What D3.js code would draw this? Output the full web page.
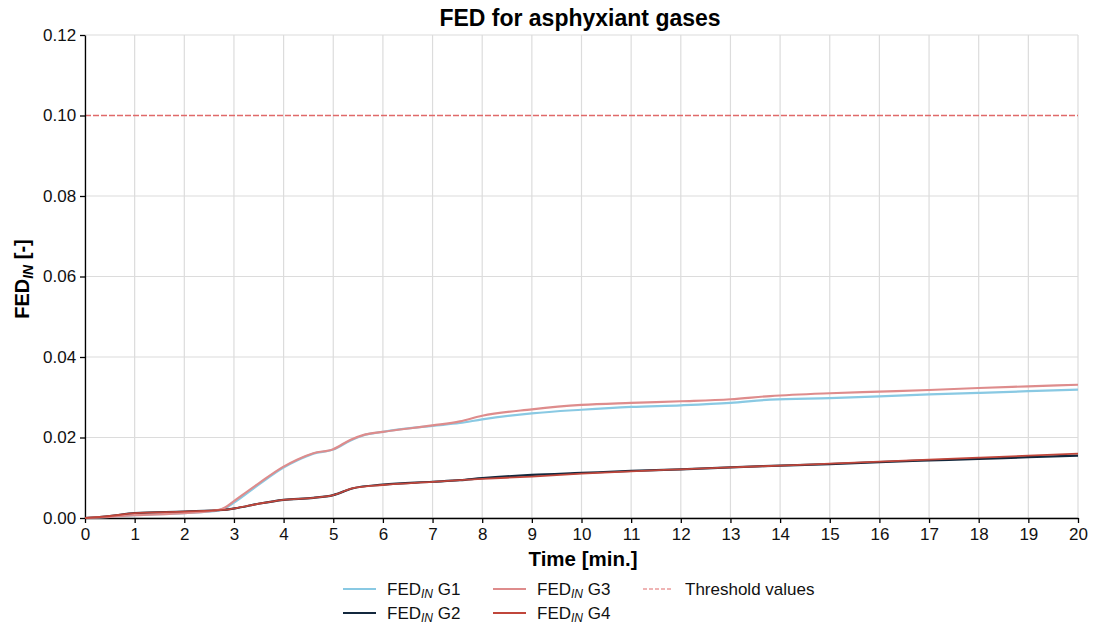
<!DOCTYPE html>
<html><head><meta charset="utf-8">
<script src="https://cdn.jsdelivr.net/npm/d3@7"></script>
<style>body{margin:0;background:#fff;font-family:"Liberation Sans",Arial,sans-serif;}</style>
</head><body><svg id="c" width="1098" height="628"></svg>
<script>
const timeG13 = [0,0.5,1,2,2.7,2.82,3.0,3.52,3.99,4.27,4.6,5.0,5.34,5.6,6,7,7.55,8,9,10,11,12,13,13.8,15,16,17,18,19,20];
const g1 = [0,0.0003,0.0007,0.0012,0.0019,0.0024,0.0038,0.0085,0.0125,0.0143,0.016,0.017,0.0192,0.0205,0.0214,0.0229,0.0236,0.0245,0.026,0.0269,0.0276,0.0280,0.0286,0.0294,0.0298,0.0302,0.0307,0.0311,0.0315,0.0319];
const g3 = [0,0.0003,0.0007,0.0012,0.0020,0.0026,0.0042,0.0088,0.0127,0.0145,0.0161,0.0171,0.0194,0.0206,0.0214,0.0230,0.0240,0.0254,0.0270,0.0281,0.0286,0.0290,0.0295,0.0303,0.0310,0.0314,0.0318,0.0323,0.0327,0.0331];
const timeG24 = [0,0.5,1,2,2.78,3.02,3.52,4,4.6,5,5.4,6,7,7.55,8,9,10,11,12,13,14,15,16,17,18,19,20];
const g2 = [0,0.0005,0.0012,0.0016,0.0020,0.0024,0.0036,0.0045,0.0050,0.0057,0.0074,0.0083,0.0090,0.0094,0.0099,0.0107,0.0112,0.0117,0.0121,0.0126,0.0130,0.0134,0.0139,0.0143,0.0147,0.0151,0.0155];
const g4 = [0,0.0005,0.0012,0.0016,0.0020,0.0024,0.0036,0.0045,0.0050,0.0057,0.0074,0.0082,0.0090,0.0094,0.0097,0.0103,0.0110,0.0116,0.0121,0.0126,0.0130,0.0135,0.0140,0.0145,0.0150,0.0155,0.0160];
const threshold = 0.10;
const xTicks = d3.range(0,21,1);
const yTicks = [0,0.02,0.04,0.06,0.08,0.10,0.12];

const svg = d3.select("#c");
const m = {l:85, r:1078, t:35, b:518};
const x = d3.scaleLinear().domain([0,20]).range([m.l,m.r]);
const y = d3.scaleLinear().domain([0,0.12]).range([m.b,m.t]);

// grid
svg.append("g").selectAll("line").data(xTicks).join("line")
  .attr("x1",d=>x(d)).attr("x2",d=>x(d)).attr("y1",m.t).attr("y2",m.b)
  .attr("stroke","#dcdcdc").attr("stroke-width",1.2);
svg.append("g").selectAll("line").data(yTicks.filter(v=>v!==threshold)).join("line")
  .attr("x1",m.l).attr("x2",m.r).attr("y1",d=>y(d)).attr("y2",d=>y(d))
  .attr("stroke","#dcdcdc").attr("stroke-width",1.2);

// threshold
const thrColor = "#e06a6a";
svg.append("line").attr("x1",m.l).attr("x2",m.r).attr("y1",y(threshold)).attr("y2",y(threshold))
  .attr("stroke",thrColor).attr("stroke-width",1.3).attr("stroke-dasharray","6,2");

// axes
const xa = svg.append("g").attr("transform",`translate(0,${m.b})`)
  .call(d3.axisBottom(x).tickValues(xTicks).tickFormat(d3.format("d")).tickSize(5).tickSizeOuter(0));
const ya = svg.append("g").attr("transform",`translate(${m.l},0)`)
  .call(d3.axisLeft(y).tickValues(yTicks).tickFormat(d3.format(".2f")).tickSize(5).tickSizeOuter(0));
[xa,ya].forEach(a=>{
  a.selectAll("path,line").attr("stroke","#000").attr("stroke-width",1.3);
  a.selectAll("text").attr("font-size",17).attr("fill","#111").attr("font-family","Liberation Sans, Arial, sans-serif");
});
xa.selectAll("text").attr("dy","0.85em");
ya.selectAll("text").attr("dx","-0.05em");

// lines
const line = (t)=>d3.line().x((d,i)=>x(t[i])).y(d=>y(d)).curve(d3.curveMonotoneX);
const series = [
  {v:g1,t:timeG13,c:"#89c9e3",w:2.2},
  {v:g2,t:timeG24,c:"#13283d",w:2.2},
  {v:g3,t:timeG13,c:"#de8c8c",w:2.2},
  {v:g4,t:timeG24,c:"#c0463b",w:1.8}
];
series.forEach(s=>{
  svg.append("path").datum(s.v).attr("d",line(s.t)).attr("fill","none")
    .attr("stroke",s.c).attr("stroke-width",s.w);
});

// title & labels
svg.append("text").attr("x",580).attr("y",26).attr("text-anchor","middle")
  .attr("font-size",23).attr("font-weight","bold").text("FED for asphyxiant gases");
svg.append("text").attr("x",583).attr("y",566).attr("text-anchor","middle")
  .attr("font-size",20.5).attr("font-weight","bold").text("Time [min.]");
const yl = svg.append("text").attr("transform","translate(29,279) rotate(-90)").attr("text-anchor","middle")
  .attr("font-size",20).attr("font-weight","bold");
yl.append("tspan").text("FED");
yl.append("tspan").attr("font-size",14).attr("font-style","italic").attr("dy",4).text("IN");
yl.append("tspan").attr("dy",-4).text(" [-]");

// legend
const legend = [
  {name:"G1",c:"#89c9e3",x:343,y:589},
  {name:"G2",c:"#13283d",x:343,y:613},
  {name:"G3",c:"#de8c8c",x:493,y:589},
  {name:"G4",c:"#c0463b",x:493,y:613}
];
legend.forEach(l=>{
  svg.append("line").attr("x1",l.x).attr("x2",l.x+33).attr("y1",l.y).attr("y2",l.y)
    .attr("stroke",l.c).attr("stroke-width",2.2);
  const t = svg.append("text").attr("x",l.x+44).attr("y",l.y+6).attr("font-size",17).attr("fill","#111");
  t.append("tspan").text("FED");
  t.append("tspan").attr("font-size",12).attr("font-style","italic").attr("dy",3).text("IN");
  t.append("tspan").attr("dy",-3).text(" "+l.name);
});
svg.append("line").attr("x1",643).attr("x2",672).attr("y1",589).attr("y2",589)
  .attr("stroke",thrColor).attr("stroke-width",1.1).attr("stroke-dasharray","4,2");
svg.append("text").attr("x",685).attr("y",595).attr("font-size",17).attr("fill","#111").text("Threshold values");
</script></body></html>
